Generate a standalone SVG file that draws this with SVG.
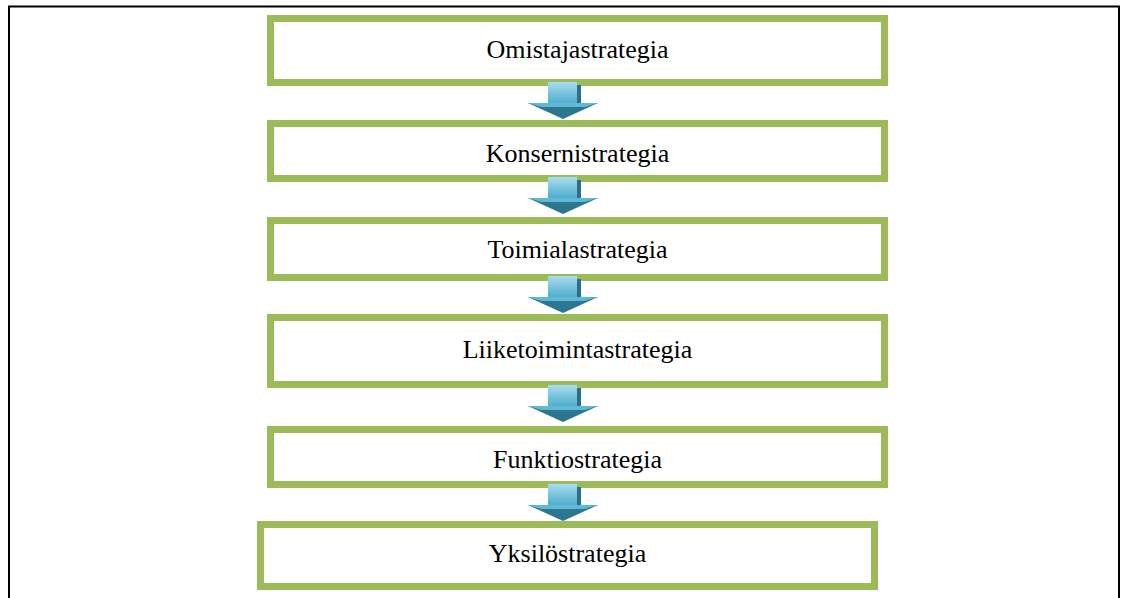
<svg xmlns="http://www.w3.org/2000/svg" width="1122" height="598" viewBox="0 0 1122 598">
<defs>
<style>
.box{fill:#fff;stroke:#9BBB59;stroke-width:7}
.lbl{font-family:"Liberation Serif","Times New Roman",serif;font-size:26px;fill:#000;text-anchor:middle}
.shaft{fill:url(#shaftGrad)}
.side{fill:#2d6f86}
.headDark{fill:#2c7690}
.headLight{fill:#5fb9d6}
</style>
<linearGradient id="shaftGrad" x1="0" y1="0" x2="0" y2="1">
<stop offset="0" stop-color="#a9dcee"/>
<stop offset="1" stop-color="#4aaccb"/>
</linearGradient>
<g id="arrow">
<rect class="side" x="14" y="3" width="4" height="21"/>
<rect class="shaft" x="-15" y="0" width="29" height="22"/>
<polygon class="headDark" points="-35,21 35,21 0,37"/>
<polygon class="headLight" points="-35,21 35,21 22,25 -22,25"/>
</g>
</defs>
<rect width="1122" height="598" fill="#fff"/>
<path d="M9,598 V6.5 H1119 V598" fill="none" stroke="#000" stroke-width="2"/>
<g id="node-omistaja">
<rect class="box" x="270.5" y="18.5" width="614" height="64"/>
<text class="lbl" x="577.5" y="58">Omistajastrategia</text>
</g>
<g id="node-konserni">
<rect class="box" x="270.5" y="123.5" width="614" height="55"/>
<text class="lbl" x="577.5" y="162">Konsernistrategia</text>
</g>
<g id="node-toimiala">
<rect class="box" x="270.5" y="220.5" width="614" height="57"/>
<text class="lbl" x="577.5" y="258">Toimialastrategia</text>
</g>
<g id="node-liiketoiminta">
<rect class="box" x="270.5" y="317.5" width="614" height="67"/>
<text class="lbl" x="577.5" y="358">Liiketoimintastrategia</text>
</g>
<g id="node-funktio">
<rect class="box" x="270.5" y="429.5" width="614" height="55"/>
<text class="lbl" x="577.5" y="468">Funktiostrategia</text>
</g>
<g id="node-yksilo">
<rect class="box" x="260.5" y="524.5" width="614" height="62"/>
<text class="lbl" x="567.5" y="562">Yksilöstrategia</text>
</g>
<g id="connectors">
<use href="#arrow" transform="translate(563,82)"/>
<use href="#arrow" transform="translate(563,177)"/>
<use href="#arrow" transform="translate(563,276)"/>
<use href="#arrow" transform="translate(563,385)"/>
<use href="#arrow" transform="translate(563,484)"/>
</g>
</svg>
